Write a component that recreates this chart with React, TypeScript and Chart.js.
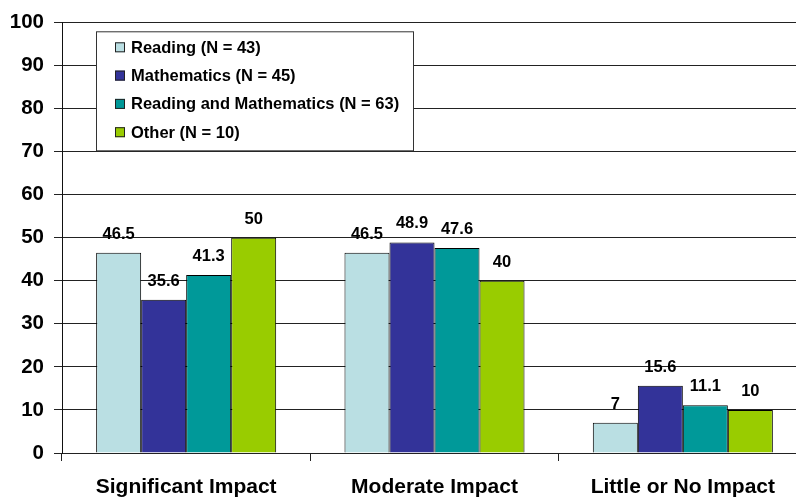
import React, { useEffect, useRef } from "react";
import { Chart, registerables } from "chart.js";

Chart.register(...registerables);

const categories = ["Significant Impact", "Moderate Impact", "Little or No Impact"];
const seriesNames = [
  "Reading (N = 43)",
  "Mathematics (N = 45)",
  "Reading and Mathematics (N = 63)",
  "Other (N = 10)",
];
const reading = [46.5, 46.5, 7];
const mathematics = [35.6, 48.9, 15.6];
const readingAndMath = [41.3, 47.6, 11.1];
const other = [50, 40, 10];
const seriesColors = ["#BADFE3", "#333399", "#009999", "#99CC00"];
const yTicks = [0, 10, 20, 30, 40, 50, 60, 70, 80, 90, 100];

const FONT = "'Liberation Sans', Arial, Helvetica, sans-serif";

const valueLabelPlugin = {
  id: "valueLabels",
  afterDatasetsDraw(chart: any) {
    const ctx = chart.ctx;
    ctx.save();
    ctx.font = `bold 16.5px ${FONT}`;
    ctx.fillStyle = "#000";
    ctx.textAlign = "center";
    ctx.textBaseline = "alphabetic";
    chart.data.datasets.forEach((ds: any, i: number) => {
      const meta = chart.getDatasetMeta(i);
      meta.data.forEach((el: any, j: number) => {
        ctx.fillText(String(ds.data[j]), el.x, el.y - 14);
      });
    });
    ctx.restore();
  },
};

const boxLegendPlugin = {
  id: "boxLegend",
  afterDraw(chart: any) {
    const ctx = chart.ctx;
    const area = chart.chartArea;
    const x = area.left + 34;
    const y = area.top + 9;
    const w = 317;
    const h = 119;
    ctx.save();
    ctx.fillStyle = "#fff";
    ctx.fillRect(x, y, w, h);
    ctx.strokeStyle = "#333";
    ctx.lineWidth = 1;
    ctx.strokeRect(x + 0.5, y + 0.5, w, h);
    ctx.font = `bold 16.5px ${FONT}`;
    ctx.textBaseline = "middle";
    ctx.textAlign = "left";
    chart.data.datasets.forEach((ds: any, i: number) => {
      const cy = y + 16 + i * 28.3;
      ctx.fillStyle = ds.backgroundColor;
      ctx.fillRect(x + 19, cy - 5, 10, 10);
      ctx.strokeStyle = "#222";
      ctx.strokeRect(x + 19.5, cy - 4.5, 9, 9);
      ctx.fillStyle = "#000";
      ctx.fillText(ds.label, x + 35, cy + 1);
    });
    ctx.restore();
  },
};

export default function App() {
  const ref = useRef<HTMLCanvasElement>(null);
  useEffect(() => {
    if (!ref.current) return;
    const data = [reading, mathematics, readingAndMath, other];
    const chart = new Chart(ref.current, {
      type: "bar",
      data: {
        labels: categories,
        datasets: seriesNames.map((name, i) => ({
          label: name,
          data: data[i],
          backgroundColor: seriesColors[i],
          borderColor: "#000",
          borderWidth: 1,
          borderSkipped: "bottom",
          categoryPercentage: 0.725,
          barPercentage: 1,
        })),
      },
      options: {
        animation: false,
        responsive: false,
        devicePixelRatio: 1,
        layout: { padding: { top: 20, right: 0, left: 0, bottom: 0 } },
        plugins: {
          legend: { display: false },
          tooltip: { enabled: false },
        },
        scales: {
          x: {
            afterFit: (s: any) => {
              s.height = 51;
            },
            grid: {
              display: true,
              drawOnChartArea: false,
              drawTicks: true,
              tickLength: 8,
              color: "#222",
              offset: true,
            },
            border: { display: true, color: "#222" },
            ticks: {
              color: "#000",
              padding: 14,
              font: { family: FONT, size: 21, weight: "bold" },
              maxRotation: 0,
            },
          },
          y: {
            min: 0,
            max: 100,
            afterFit: (s: any) => {
              s.width = 62;
            },
            afterBuildTicks: (s: any) => {
              s.ticks = yTicks.map((v) => ({ value: v }));
            },
            grid: {
              color: "#222",
              tickLength: 8,
            },
            border: { display: true, color: "#111" },
            ticks: {
              color: "#000",
              padding: 10,
              font: { family: FONT, size: 20.5, weight: "bold" },
            },
          },
        },
      },
      plugins: [valueLabelPlugin, boxLegendPlugin],
    } as any);
    return () => chart.destroy();
  }, []);
  return (
    <div
      style={{
        position: "fixed",
        left: 0,
        top: 0,
        width: 796,
        height: 504,
        overflow: "hidden",
        background: "#fff",
      }}
    >
      <canvas ref={ref} width={807} height={504} style={{ display: "block" }} />
    </div>
  );
}
